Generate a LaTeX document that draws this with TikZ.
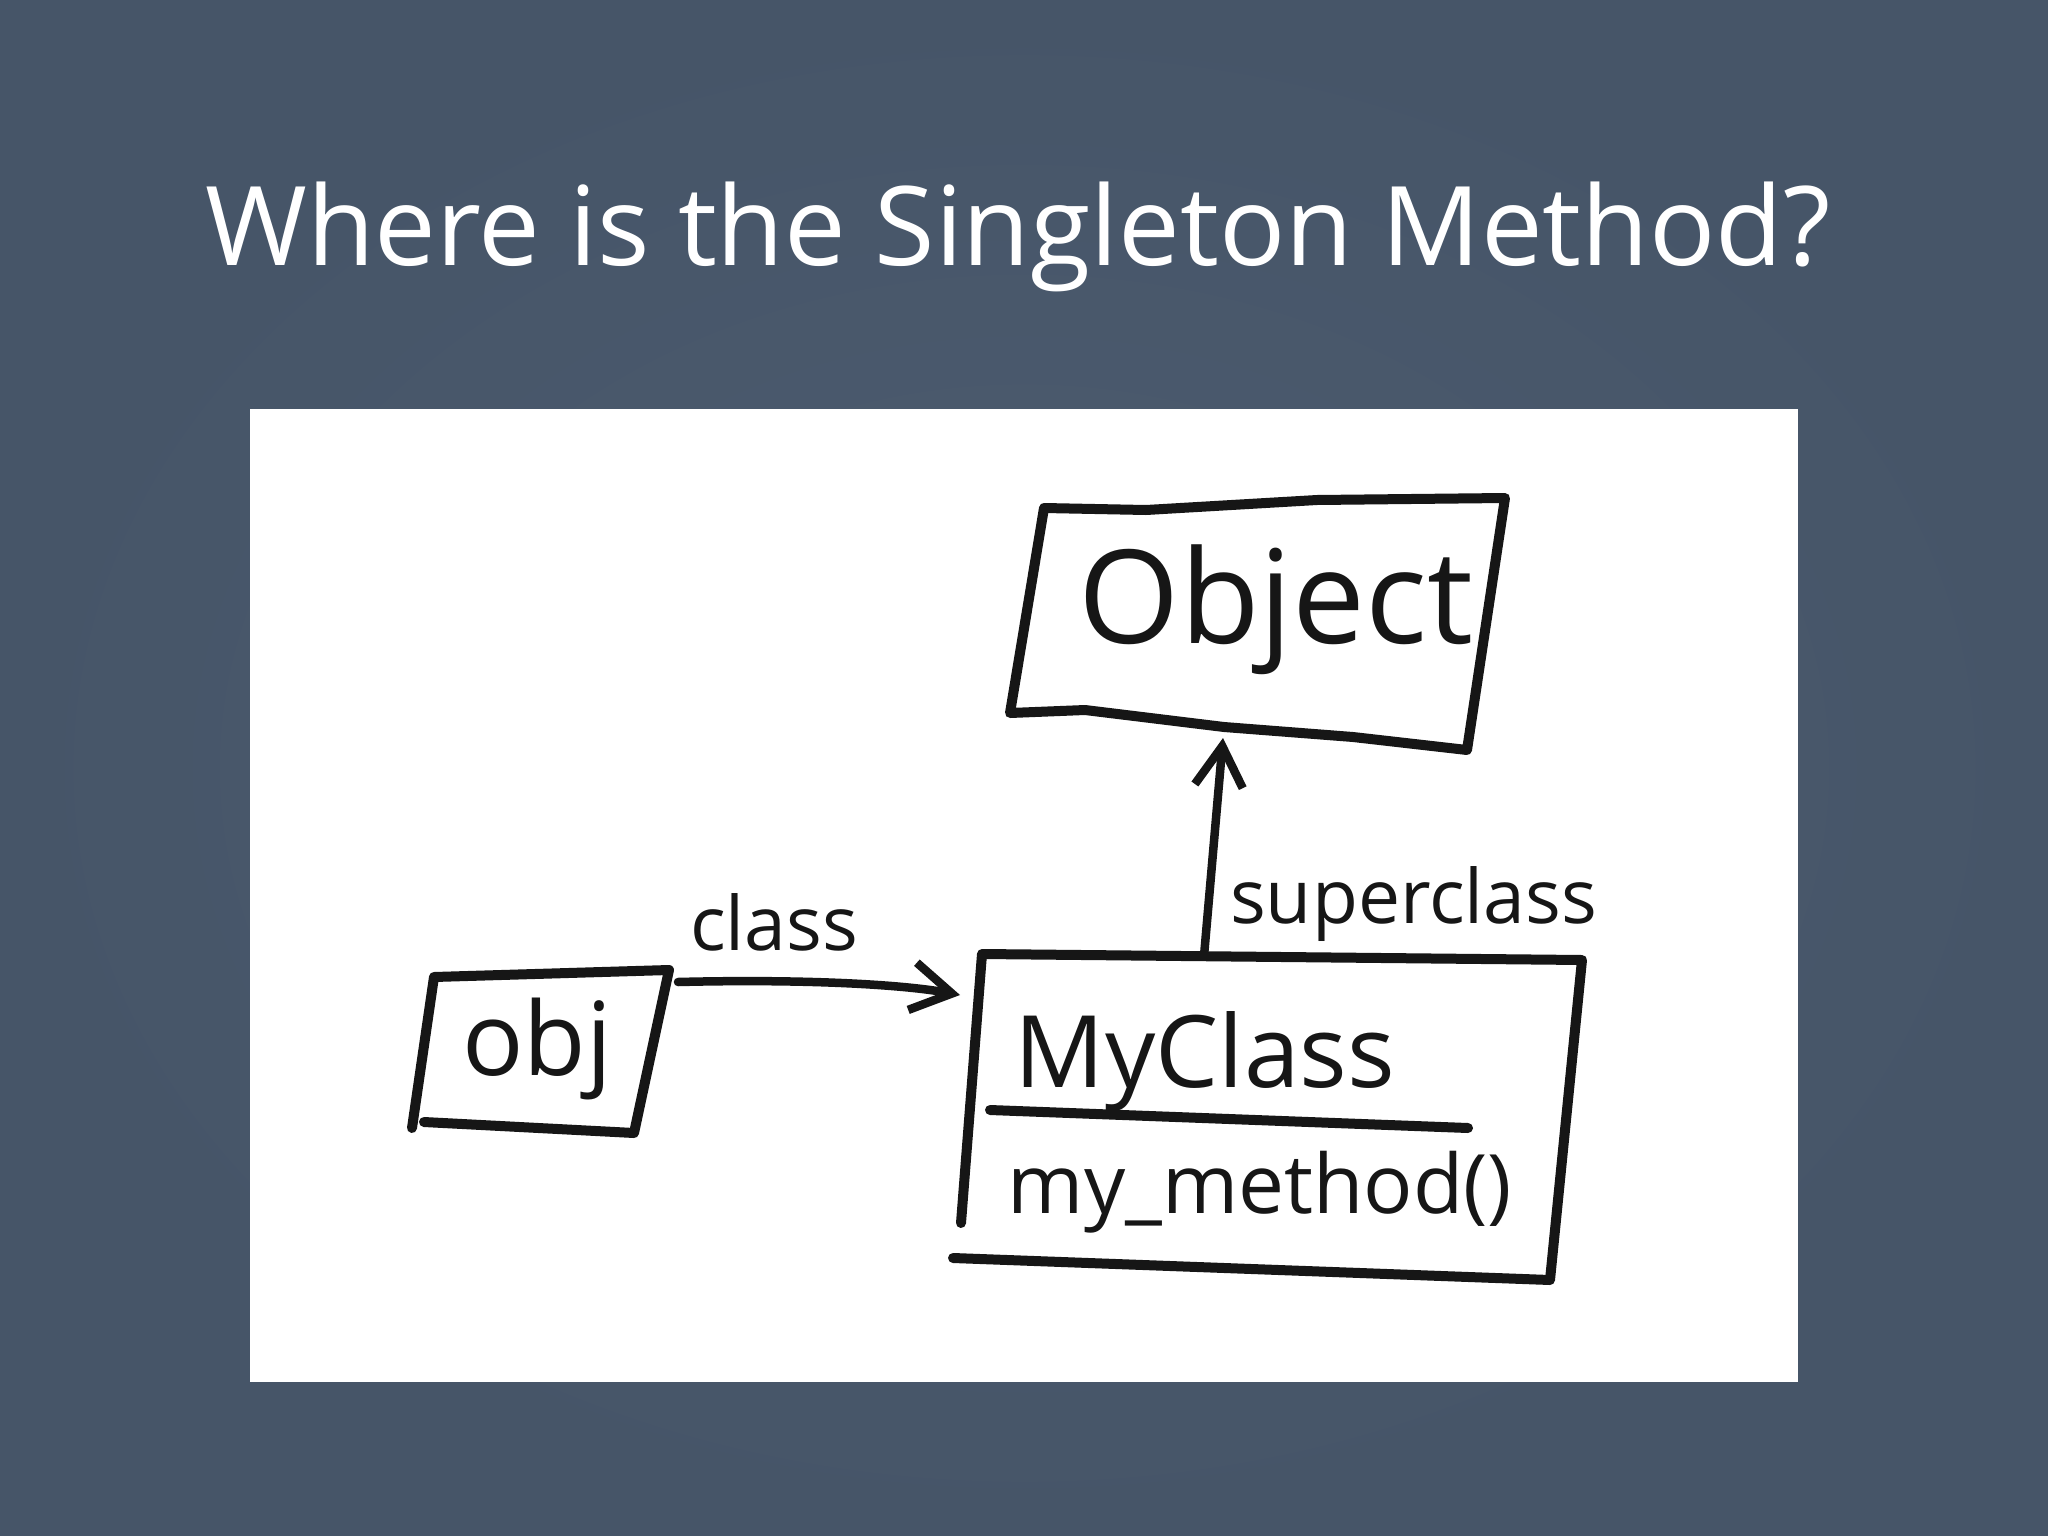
\documentclass[tikz,border=0pt]{standalone}
\usepackage{fontspec}
\setmainfont{Open Sans}
\usetikzlibrary{arrows.meta}
\definecolor{bgin}{RGB}{77,92,112}
\definecolor{bgout}{RGB}{70,85,104}
\definecolor{inkc}{RGB}{22,22,22}
\begin{document}
\begin{tikzpicture}[x=1pt,y=-1pt,
  ink/.style={draw=inkc,line width=10pt,line cap=round,line join=round},
  arr/.style={draw=inkc,line width=8.5pt,line cap=round,line join=round,
    -{Straight Barb[length=40pt,width=48pt,line width=8.5pt]}},
  hand/.style={text=inkc,inner sep=0pt,anchor=base},
  titletext/.style={text=white,inner sep=0pt,anchor=base west,font=\fontsize{110}{130}\selectfont},
]
\useasboundingbox (0,0) rectangle (2048,1536);
\shade[inner color=bgin,outer color=bgout] (0,0) rectangle (2048,1536);
\node[titletext] (title) at (205,265) {Where is the Singleton Method?};
\node[fill=white,inner sep=0pt,minimum width=1548pt,minimum height=973pt,anchor=north west] (panel) at (250,409) {};

% Object box
\coordinate (oTL) at (1044,508);
\coordinate (oTR) at (1505,498);
\coordinate (oBR) at (1467,750);
\coordinate (oBL) at (1010,713);
\draw[ink] (oTL) -- (1146,510) -- (1317,500) -- (oTR) -- (oBR) -- (1353,737) -- (1224,727) -- (1085,710) -- (oBL) -- cycle;
\node[hand,font=\fontsize{130}{150}\selectfont] (object) at (1276,643) {Object};

% MyClass box
\coordinate (mTL) at (982,954);
\coordinate (mTR) at (1582,960);
\coordinate (mBR) at (1550,1280);
\coordinate (mBL) at (953,1258);
\coordinate (mLB) at (961,1223);
\draw[ink] (mLB) -- (mTL) -- (mTR) -- (mBR) -- (mBL);
\coordinate (dA) at (990,1110);
\coordinate (dB) at (1468,1128);
\draw[ink] (dA) -- (dB);
\node[hand,font=\fontsize{100}{120}\selectfont] (myclass) at (1205,1087) {MyClass};
\node[hand,font=\fontsize{82}{100}\selectfont] (mymethod) at (1260,1213) {my\_method()};

% obj box
\coordinate (bTL) at (434,977);
\coordinate (bTR) at (669,970);
\coordinate (bBR) at (634,1133);
\coordinate (bBL) at (424,1122);
\coordinate (bLB) at (412,1128);
\draw[ink] (bLB) -- (bTL) -- (bTR) -- (bBR) -- (bBL);
\node[hand,font=\fontsize{102}{120}\selectfont] (obj) at (537,1075) {obj};

% connectors
\coordinate (objE) at (678,982);
\coordinate (mcW) at (960,995);
\draw[arr] (objE) .. controls (800,979) and (900,984) .. (mcW);
\node[hand,font=\fontsize{75}{90}\selectfont] (lblclass) at (774,950) {class};

\coordinate (mcN) at (1204,956);
\coordinate (oS) at (1223,738);
\draw[arr] (mcN) -- (oS);
\node[hand,anchor=base west,font=\fontsize{75}{90}\selectfont] (lblsuper) at (1230,923) {superclass};
\end{tikzpicture}
\end{document}
